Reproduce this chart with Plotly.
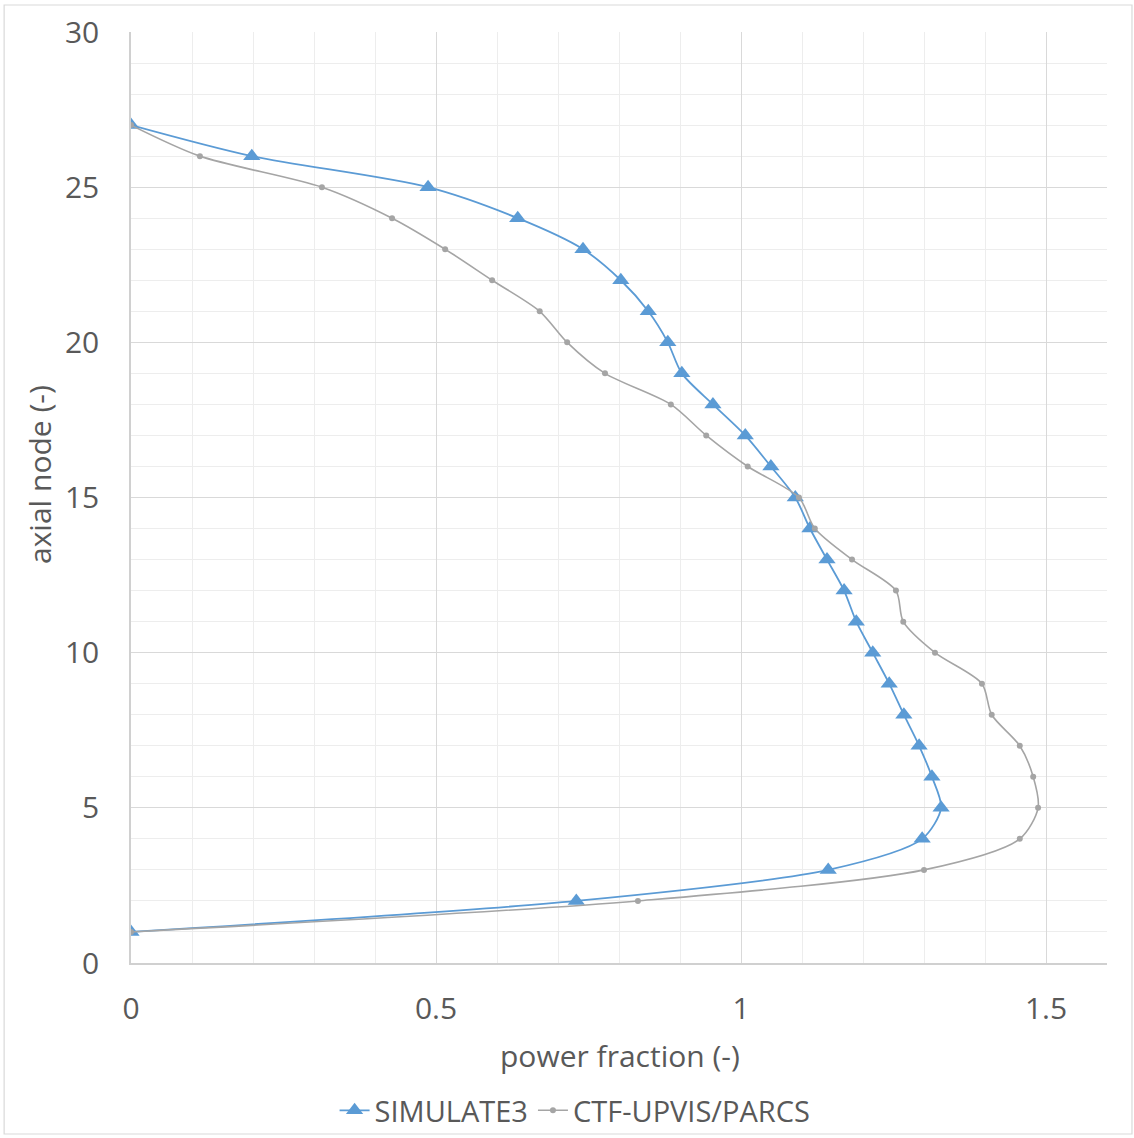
import plotly.graph_objects as go

nodes = list(range(27, 0, -1))
simulate3 = [0, 0.198, 0.487, 0.634, 0.741, 0.803, 0.848, 0.880, 0.903, 0.954, 1.007,
             1.049, 1.089, 1.113, 1.141, 1.169, 1.189, 1.216, 1.243, 1.267, 1.292,
             1.313, 1.328, 1.297, 1.143, 0.730, 0]
ctf = [0, 0.113, 0.313, 0.428, 0.515, 0.592, 0.670, 0.715, 0.777, 0.885, 0.943,
       1.011, 1.095, 1.121, 1.182, 1.254, 1.266, 1.318, 1.395, 1.411, 1.457,
       1.479, 1.487, 1.457, 1.300, 0.831, 0]

x_ticks = [0, 0.5, 1, 1.5]
x_tick_text = ["0", "0.5", "1", "1.5"]
y_ticks = [0, 5, 10, 15, 20, 25, 30]

FONT = "Open Sans, Noto Sans, sans-serif"
TXT = "#595959"

fig = go.Figure()
fig.add_trace(go.Scatter(
    x=simulate3, y=nodes, name="SIMULATE3", mode="lines+markers",
    line=dict(color="#5B9BD5", width=1.8, shape="spline", smoothing=0.8),
    marker=dict(symbol="triangle-up", size=15, color="#5B9BD5"),
))
fig.add_trace(go.Scatter(
    x=ctf, y=nodes, name="CTF-UPVIS/PARCS", mode="lines+markers",
    line=dict(color="#A5A5A5", width=1.6, shape="spline", smoothing=0.8),
    marker=dict(symbol="circle", size=6, color="#A5A5A5"),
))

fig.update_layout(
    width=1134, height=1138,
    margin=dict(l=131, r=27, t=32, b=175, autoexpand=False),
    paper_bgcolor="white", plot_bgcolor="white",
    font=dict(family=FONT, color=TXT, size=30),
    showlegend=True,
    legend=dict(orientation="h", x=0.455, xanchor="center", y=-0.131, yanchor="top",
                font=dict(size=29, color=TXT), itemwidth=30, tracegroupgap=0,
                bgcolor="rgba(0,0,0,0)"),
    shapes=[dict(type="rect", xref="paper", yref="paper",
                 x0=-0.130, x1=1.0256, y0=-0.1837, y1=1.0290,
                 line=dict(color="#D9D9D9", width=1.2), layer="below")],
    annotations=[
        dict(text="power fraction (-)", xref="paper", yref="paper",
             x=(620 - 131) / 976, y=(963 - 1055) / 931, xanchor="center", yanchor="middle",
             showarrow=False, font=dict(size=30, color=TXT)),
        dict(text="axial node (-)", xref="paper", yref="paper",
             x=(40 - 131) / 976, y=(963 - 475) / 931, xanchor="center", yanchor="middle",
             textangle=-90, showarrow=False, font=dict(size=30, color=TXT)),
    ],
)
fig.update_xaxes(
    range=[0, 1.6], tickvals=x_ticks, ticktext=x_tick_text,
    showgrid=True, gridcolor="#D9D9D9", gridwidth=1,
    minor=dict(dtick=0.1, showgrid=True, gridcolor="#EDEDED", gridwidth=1),
    showline=True, linecolor="#D0D0D0", linewidth=1.5, mirror=False,
    zeroline=False, ticks="", ticklabelstandoff=18, automargin=False,
    tickfont=dict(size=30, color=TXT),
)
fig.update_yaxes(
    range=[0, 30], tickvals=y_ticks,
    showgrid=True, gridcolor="#D9D9D9", gridwidth=1,
    minor=dict(dtick=1, showgrid=True, gridcolor="#EDEDED", gridwidth=1),
    showline=True, linecolor="#D0D0D0", linewidth=1.5,
    zeroline=False, ticks="", ticklabelstandoff=24, automargin=False,
    tickfont=dict(size=30, color=TXT),
)

fig.write_html("out.html", config={"displayModeBar": False},
               post_script="document.body.style.margin='0';document.body.style.overflow='hidden';")
